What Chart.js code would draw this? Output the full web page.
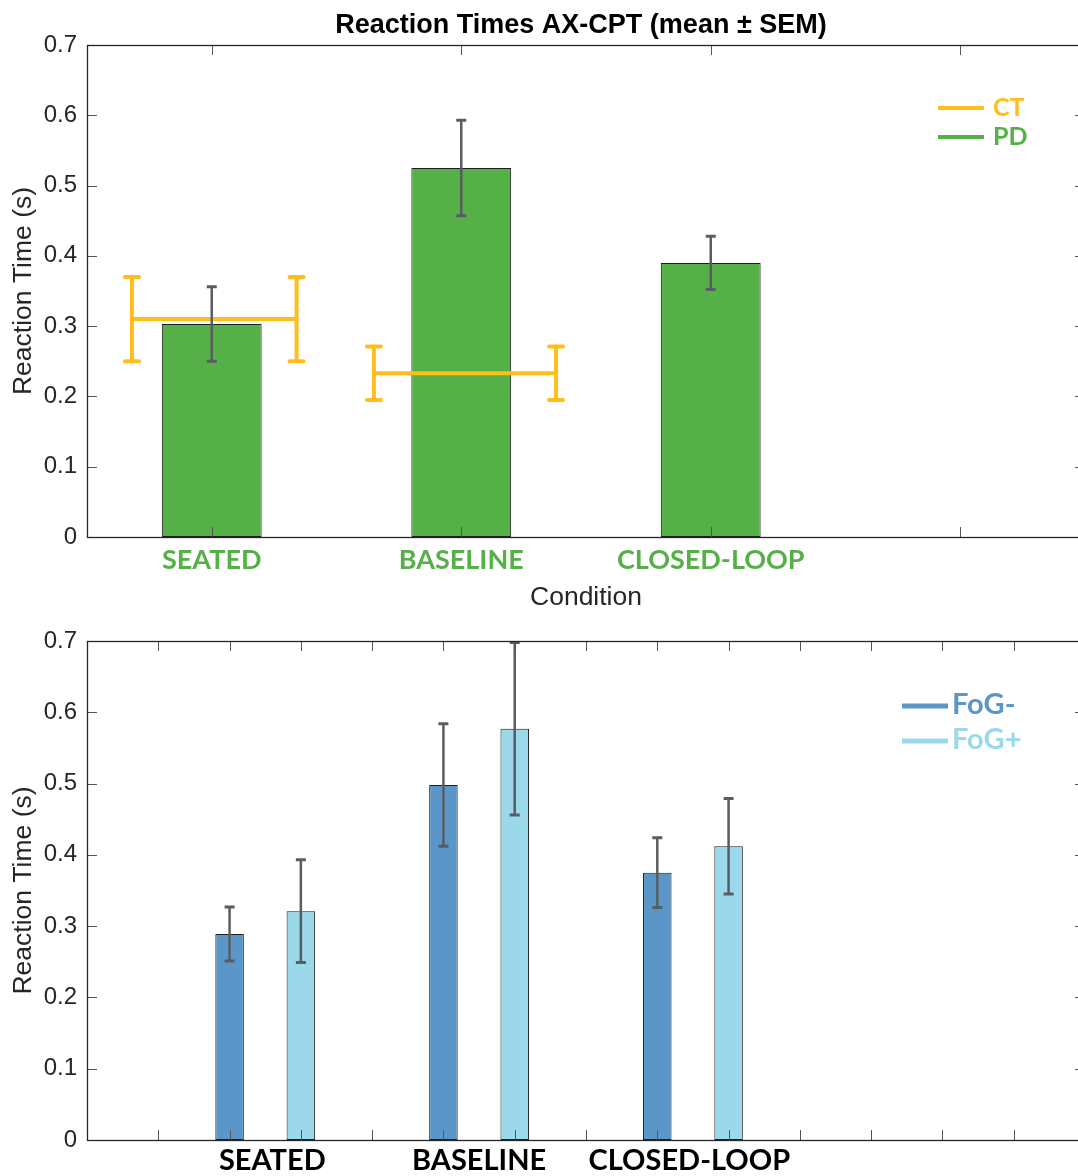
<!DOCTYPE html>
<html>
<head>
<meta charset="utf-8">
<script src="https://cdn.jsdelivr.net/npm/chart.js@4.4.1/dist/chart.umd.min.js"></script>
<style>
  html, body { margin: 0; padding: 0; overflow: hidden; background: #fff; width: 1078px; height: 1176px; }
  .panel { position: absolute; left: 0; width: 1090px; }
</style>
</head>
<body>
<div class="panel" style="top:0;height:610px"><canvas id="top"></canvas></div>
<div class="panel" style="top:610px;height:566px"><canvas id="bottom"></canvas></div>
<script>
// ---------- data ----------
const conditions = ['SEATED', 'BASELINE', 'CLOSED-LOOP'];
const yTicks = [0, 0.1, 0.2, 0.3, 0.4, 0.5, 0.6, 0.7];

// top panel: PD bars and CT reference lines
const pdX = [1, 2, 3];
const pdMean = [0.303, 0.525, 0.390];
const pdSem = [0.053, 0.068, 0.038];
const ctMean = [0.310, 0.233];
const ctSem = [0.060, 0.038];
const ctStart = [0.68, 1.65];
const ctEnd = [1.34, 2.38];
const topXTicks = [1, 2, 3, 4];

// bottom panel: FoG- / FoG+
const fogMinusX = [2, 5, 8];
const fogMinusMean = [0.289, 0.498, 0.375];
const fogMinusSem = [0.038, 0.086, 0.049];
const fogPlusX = [3, 6, 9];
const fogPlusMean = [0.321, 0.577, 0.412];
const fogPlusSem = [0.072, 0.121, 0.067];
const bottomXTicks = [1, 2, 3, 4, 5, 6, 7, 8, 9, 10, 11, 12, 13];
const bottomLabelX = [2.6, 5.5, 8.45];

// ---------- colours ----------
const GREEN = '#55B047', YELLOW = '#FFBE1A', BLUE = '#5B96C8', LIGHT = '#9BD9EA';
const AX = '#262626', ERR = '#575d61';

// ---------- plugins ----------
const errorBars = {
  id: 'errorBars',
  afterDatasetsDraw(chart) {
    const ctx = chart.ctx, ys = chart.scales.y;
    chart.data.datasets.forEach((ds, di) => {
      if (!ds.errors) return;
      const meta = chart.getDatasetMeta(di);
      ctx.save();
      ctx.strokeStyle = ds.errColor; ctx.lineWidth = ds.errWidth; ctx.lineCap = ds.errCap || 'butt';
      meta.data.forEach((el, i) => {
        const e = ds.errors[i], p = ds.data[i];
        if (e == null || p == null || p.y == null) return;
        const x = el.x, y1 = ys.getPixelForValue(p.y + e), y0 = ys.getPixelForValue(p.y - e);
        const h = ds.capWidth / 2;
        ctx.beginPath();
        ctx.moveTo(x, y0); ctx.lineTo(x, y1);
        ctx.stroke();
        ctx.lineWidth = ds.capLineWidth || ds.errWidth;
        ctx.beginPath();
        ctx.moveTo(x - h, y0); ctx.lineTo(x + h, y0);
        ctx.moveTo(x - h, y1); ctx.lineTo(x + h, y1);
        ctx.stroke();
        ctx.lineWidth = ds.errWidth;
      });
      ctx.restore();
    });
  }
};

const frame = {
  id: 'frame',
  afterDraw(chart, args, o) {
    const {ctx, chartArea: a, scales: {x, y}} = chart;
    const L = 10;
    ctx.save();
    ctx.lineWidth = 1;
    ctx.strokeStyle = '#555';
    ctx.beginPath();
    o.xTicks.forEach(v => {
      const px = Math.round(x.getPixelForValue(v)) + 0.5;
      ctx.moveTo(px, a.bottom); ctx.lineTo(px, a.bottom - L);
      ctx.moveTo(px, a.top); ctx.lineTo(px, a.top + L);
    });
    o.yTicks.forEach(v => {
      const py = Math.round(y.getPixelForValue(v)) + 0.5;
      ctx.moveTo(a.left, py); ctx.lineTo(a.left + L, py);
      ctx.moveTo(a.right, py); ctx.lineTo(a.right - L, py);
    });
    ctx.stroke();
    ctx.strokeStyle = AX;
    ctx.lineWidth = 1.3;
    ctx.strokeRect(Math.round(a.left) + 0.5, Math.round(a.top) + 0.5, Math.round(a.right - a.left), Math.round(a.bottom - a.top));
    ctx.restore();
  }
};

const boxTitle = {
  id: 'boxTitle',
  afterDraw(chart, args, o) {
    if (!o.text) return;
    const {ctx, chartArea: a} = chart;
    ctx.save();
    ctx.font = 'bold 27px "Liberation Sans", Arial, sans-serif';
    ctx.fillStyle = '#000';
    ctx.textAlign = 'center'; ctx.textBaseline = 'alphabetic';
    ctx.fillText(o.text, (a.left + a.right) / 2 - 5, o.y);
    ctx.restore();
  }
};

const lineLegend = {
  id: 'lineLegend',
  afterDraw(chart, args, o) {
    if (!o.items) return;
    const ctx = chart.ctx;
    ctx.save();
    o.items.forEach(it => {
      ctx.strokeStyle = it.color; ctx.lineWidth = o.lineWidth;
      ctx.beginPath(); ctx.moveTo(o.x0, it.y); ctx.lineTo(o.x1, it.y); ctx.stroke();
      ctx.fillStyle = it.color; ctx.font = o.font;
      ctx.textAlign = 'left'; ctx.textBaseline = 'middle';
      ctx.fillText(it.label, o.textX, it.y + o.dy);
    });
    ctx.restore();
  }
};

function yScale(withTitle) {
  return {
    type: 'linear', min: 0, max: 0.7,
    afterBuildTicks: s => { s.ticks = yTicks.map(v => ({value: v})); },
    afterFit: s => { s.width = 87; },
    ticks: {
      callback: v => (Math.round(v * 10) / 10).toString(),
      font: {family: '"Liberation Sans", Arial, sans-serif', size: 24},
      color: AX, padding: 10
    },
    grid: {display: false, drawTicks: false},
    border: {display: false},
    title: {
      display: withTitle, text: 'Reaction Time (s)', color: AX,
      font: {family: '"Liberation Sans", Arial, sans-serif', size: 26.5},
      padding: {top: 8, bottom: 0}
    }
  };
}

// ---------- top chart ----------
const ctPoints = [], ctErr = [];
ctMean.forEach((m, i) => {
  ctPoints.push({x: ctStart[i], y: m}, {x: ctEnd[i], y: m}, {x: ctEnd[i], y: null});
  ctErr.push(ctSem[i], ctSem[i], null);
});

new Chart(document.getElementById('top'), {
  type: 'bar',
  data: {
    datasets: [
      {
        type: 'line', label: 'CT', data: ctPoints, errors: ctErr,
        borderColor: YELLOW, borderWidth: 4, pointRadius: 0, spanGaps: false, order: 0,
        errColor: YELLOW, errWidth: 4, capWidth: 14, errCap: 'round'
      },
      {
        type: 'bar', label: 'PD', data: pdX.map((x, i) => ({x, y: pdMean[i]})), errors: pdSem,
        backgroundColor: GREEN, borderColor: '#1e1e1e', borderWidth: 1, borderSkipped: false,
        barPercentage: 0.4, categoryPercentage: 1, grouped: false, order: 1,
        errColor: ERR, errWidth: 2.5, capWidth: 10, capLineWidth: 3
      }
    ]
  },
  options: {
    animation: false, responsive: true, maintainAspectRatio: false,
    layout: {padding: {top: 45, right: 5, left: 0, bottom: 0}},
    plugins: {
      legend: {display: false}, tooltip: {enabled: false},
      frame: {xTicks: topXTicks, yTicks: yTicks},
      boxTitle: {text: 'Reaction Times AX-CPT (mean ± SEM)', y: 33},
      lineLegend: {
        x0: 938, x1: 984, textX: 993, lineWidth: 4, dy: 0,
        font: 'bold 25px Lato, "Open Sans", sans-serif',
        items: [{label: 'CT', color: YELLOW, y: 108}, {label: 'PD', color: GREEN, y: 137}]
      }
    },
    scales: {
      x: {
        type: 'linear', min: 0.5, max: 4.5, offset: false,
        afterBuildTicks: s => { s.ticks = topXTicks.map(v => ({value: v})); },
        afterFit: s => { s.height = 73; },
        ticks: {
          callback: v => conditions[v - 1] || '',
          font: {family: 'Lato, "Open Sans", sans-serif', size: 27, weight: 'bold'},
          color: GREEN, padding: 7, autoSkip: false, maxRotation: 0
        },
        grid: {display: false, drawTicks: false},
        border: {display: false},
        title: {
          display: true, text: 'Condition', color: AX,
          font: {family: '"Liberation Sans", Arial, sans-serif', size: 26.5},
          padding: {top: 0, bottom: -4}
        }
      },
      y: yScale(true)
    }
  },
  plugins: [errorBars, frame, boxTitle, lineLegend]
});

// ---------- bottom chart ----------
new Chart(document.getElementById('bottom'), {
  type: 'bar',
  data: {
    datasets: [
      {
        label: 'FoG-', data: fogMinusX.map((x, i) => ({x, y: fogMinusMean[i]})), errors: fogMinusSem,
        backgroundColor: BLUE, borderColor: '#1e1e1e', borderWidth: 1, borderSkipped: false,
        barPercentage: 0.4, categoryPercentage: 1, grouped: false,
        errColor: ERR, errWidth: 2.5, capWidth: 10, capLineWidth: 3
      },
      {
        label: 'FoG+', data: fogPlusX.map((x, i) => ({x, y: fogPlusMean[i]})), errors: fogPlusSem,
        backgroundColor: LIGHT, borderColor: '#1e1e1e', borderWidth: 1, borderSkipped: false,
        barPercentage: 0.4, categoryPercentage: 1, grouped: false,
        errColor: ERR, errWidth: 2.5, capWidth: 10, capLineWidth: 3
      }
    ]
  },
  options: {
    animation: false, responsive: true, maintainAspectRatio: false,
    layout: {padding: {top: 31, right: 5, left: 0, bottom: 0}},
    plugins: {
      legend: {display: false}, tooltip: {enabled: false},
      frame: {xTicks: bottomXTicks, yTicks: yTicks},
      lineLegend: {
        x0: 902, x1: 948, textX: 952, lineWidth: 5, dy: -1,
        font: 'bold 29px Lato, "Open Sans", sans-serif',
        items: [{label: 'FoG-', color: BLUE, y: 96}, {label: 'FoG+', color: LIGHT, y: 131}]
      }
    },
    scales: {
      x: {
        type: 'linear', min: 0, max: 14, offset: false,
        afterBuildTicks: s => { s.ticks = bottomLabelX.map(v => ({value: v})); },
        afterFit: s => { s.height = 36; },
        ticks: {
          callback: (v, i) => conditions[i] || '',
          font: {family: 'Lato, "Open Sans", sans-serif', size: 29, weight: 'bold'},
          color: '#000', padding: 3, autoSkip: false, maxRotation: 0
        },
        grid: {display: false, drawTicks: false},
        border: {display: false}
      },
      y: yScale(true)
    }
  },
  plugins: [errorBars, frame, lineLegend]
});
</script>
</body>
</html>
